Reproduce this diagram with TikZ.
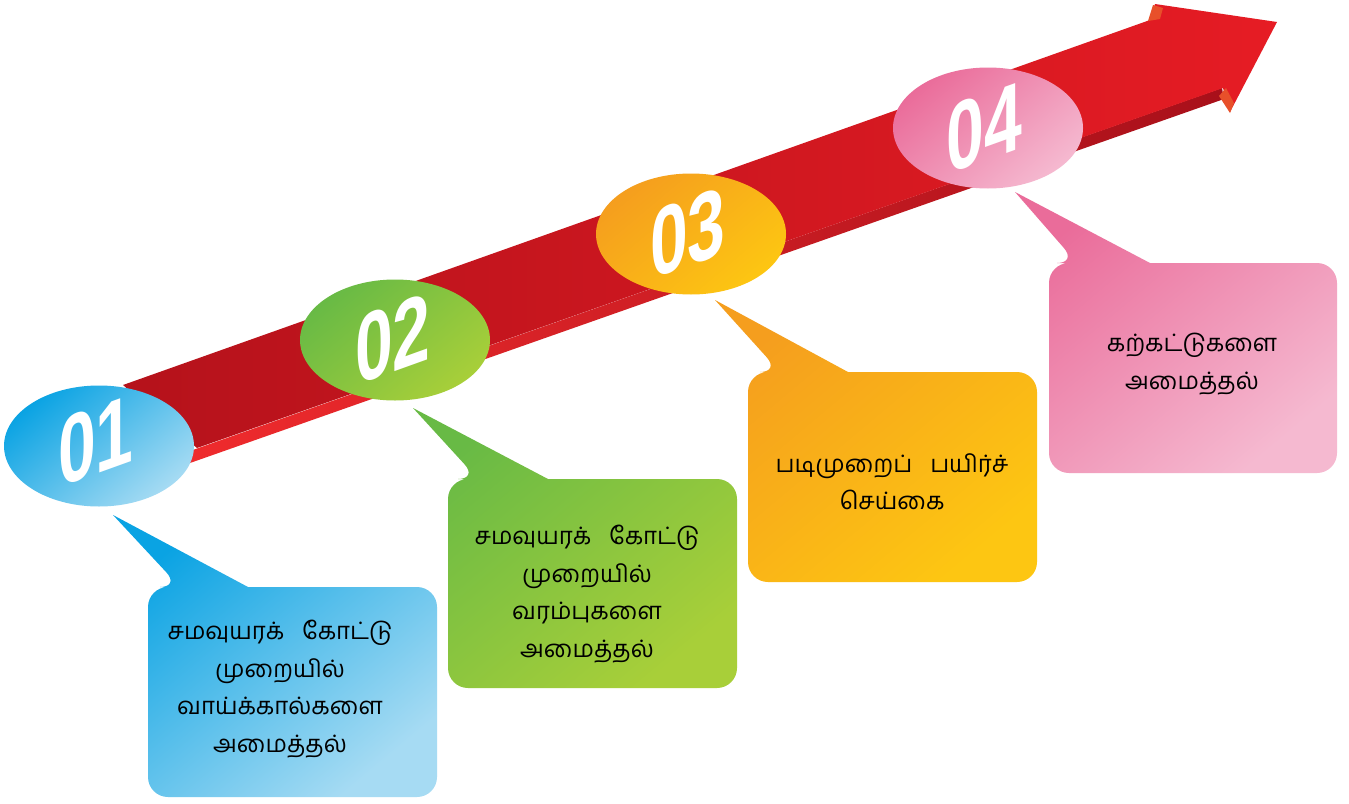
\documentclass[tikz,border=0pt]{standalone}
\usepackage{fontspec}
\newfontfamily\tamilfont[Script=Tamil]{Hind Madurai}
\newfontfamily\digitfont{Liberation Sans}
\usetikzlibrary{shapes.geometric}
\definecolor{redA}{HTML}{B5121B}
\definecolor{redB}{HTML}{E61C24}
\definecolor{stripA}{HTML}{EF2B2D}
\definecolor{stripB}{HTML}{A8101A}
\definecolor{bevel}{HTML}{E8502A}
\definecolor{blueA}{HTML}{0AA3E3}
\definecolor{blueB}{HTML}{A6DBF3}
\definecolor{greenA}{HTML}{68BA45}
\definecolor{greenB}{HTML}{A8CF39}
\definecolor{orangeA}{HTML}{F59E1E}
\definecolor{orangeB}{HTML}{FDC612}
\definecolor{pinkA}{HTML}{EA6C9A}
\definecolor{pinkB}{HTML}{F5B9D0}
\tikzset{
  oval/.style={ellipse, inner sep=0pt, minimum width=190pt, minimum height=121pt},
  digits/.style={font=\digitfont\bfseries\fontsize{97}{97}\selectfont, text=white, inner sep=0pt, yslant=0.36, xscale=0.7},
  label/.style={font=\tamilfont\fontsize{24}{37.5}\selectfont, align=center, inner sep=0pt, text=black},
}
\begin{document}
\begin{tikzpicture}[x=1pt,y=-1pt]
\useasboundingbox (0,0) rectangle (1349,803);
\fill[white] (0,0) rectangle (1349,803);
\begin{scope}
\clip (0,0) rectangle (1349,803);
% arrow strip (3D underside)
\shade[left color=stripA, right color=stripB] (190,451) -- (1222,88) -- (1224,99) -- (190,463) -- cycle;
% arrow front face
\shade[left color=redA, right color=redB] (123,385) -- (1150,20) -- (1155,4) -- (1277,22) -- (1230,112) -- (1223,88) -- (197,448) -- cycle;
% bevels at the barbs
\fill[bevel] (1148,21) -- (1153,5) -- (1163,8) -- (1160,19) -- cycle;
\fill[bevel] (1219,96) -- (1226,88) -- (1234,103) -- (1230,113) -- cycle;
\end{scope}
% callouts
\shade[top color=blueA, bottom color=blueB, shading angle=40]
  (248,587) [rounded corners=20pt] -- (437,587) -- (437,797) -- (148,797) -- (148,587) -- (180,587) [sharp corners] -- (113,515) -- cycle;
\shade[top color=greenA, bottom color=greenB, shading angle=40]
  (548,479) [rounded corners=20pt] -- (737,479) -- (737,688) -- (448,688) -- (448,479) -- (478,479) [sharp corners] -- (413,408) -- cycle;
\shade[top color=orangeA, bottom color=orangeB, shading angle=40]
  (848,372) [rounded corners=20pt] -- (1037,372) -- (1037,582) -- (748,582) -- (748,372) -- (780,372) [sharp corners] -- (715,300) -- cycle;
\shade[top color=pinkA, bottom color=pinkB, shading angle=40]
  (1150,263) [rounded corners=20pt] -- (1337,263) -- (1337,473) -- (1049,473) -- (1049,263) -- (1077,263) [sharp corners] -- (1015,192) -- cycle;
% ovals
\node[oval, top color=blueA, bottom color=blueB, shading angle=40] (e1) at (99,446) {};
\node[oval, top color=greenA, bottom color=greenB, shading angle=40] (e2) at (395,340) {};
\node[oval, top color=orangeA, bottom color=orangeB, shading angle=40] (e3) at (691,234) {};
\node[oval, top color=pinkA, bottom color=pinkB, shading angle=40] (e4) at (988,128) {};
% numbers
\node[digits] (d1) at (96,441) {01};
\node[digits] (d2) at (393,339) {02};
\node[digits] (d3) at (688,233) {03};
\node[digits] (d4) at (984,128) {04};
% texts
\node[label] (t1) at (280,689) {சமவுயரக்\hspace{0.5em} கோட்டு\\முறையில்\\வாய்க்கால்களை\\அமைத்தல்};
\node[label] (t2) at (587,594) {சமவுயரக்\hspace{0.5em} கோட்டு\\முறையில்\\வரம்புகளை\\அமைத்தல்};
\node[label] (t3) at (892,482) {படிமுறைப்\hspace{0.5em} பயிர்ச்\\செய்கை};
\node[label] (t4) at (1192,364) {கற்கட்டுகளை\\அமைத்தல்};
\end{tikzpicture}
\end{document}
